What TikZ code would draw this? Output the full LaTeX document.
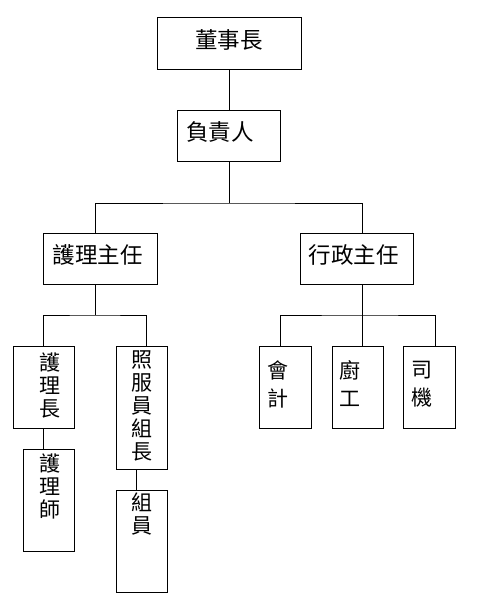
\documentclass[tikz,border=0pt]{standalone}
\usepackage{fontspec}
\newfontfamily\cjk{Noto Sans CJK TC}
\begin{document}
\begin{tikzpicture}[x=1pt,y=-1pt,
  box/.style={draw=black,line width=1pt,fill=white,inner sep=0pt},
  htxt/.style={inner sep=0pt,font=\cjk\fontsize{22.5}{24}\selectfont},
  vtxt/.style={inner sep=0pt,align=center,font=\cjk\fontsize{21}{22.8}\selectfont},
  conn/.style={line width=1pt,draw=black}]
\useasboundingbox (0,0) rectangle (477,600);
% boxes
\node[box,minimum width=144pt,minimum height=52pt] (A) at (229,43) {};
\node[box,minimum width=103pt,minimum height=51pt] (B) at (228.5,135.5) {};
\node[box,minimum width=114pt,minimum height=51pt] (C) at (100,258.5) {};
\node[box,minimum width=113pt,minimum height=51pt] (D) at (356.5,258.5) {};
\node[box,minimum width=61pt,minimum height=82pt] (E) at (43.5,387) {};
\node[box,minimum width=51pt,minimum height=102pt] (F) at (48.5,500) {};
\node[box,minimum width=51pt,minimum height=123pt] (G) at (141.5,407.5) {};
\node[box,minimum width=51pt,minimum height=102pt] (H) at (141.5,541) {};
\node[box,minimum width=52pt,minimum height=82pt] (I) at (285,387) {};
\node[box,minimum width=51pt,minimum height=82pt] (J) at (357.5,387) {};
\node[box,minimum width=52pt,minimum height=82pt] (K) at (429,387) {};
% texts
\node[htxt] (tA) at (229,40) {董事長};
\node[htxt,anchor=west] (tB) at (186,132) {負責人};
\node[htxt] (tC) at (97.5,255) {護理主任};
\node[htxt] (tD) at (353.5,255) {行政主任};
\node[vtxt] (tE) at (50,385.5) {護\\理\\長};
\node[vtxt] (tF) at (50,486.5) {護\\理\\師};
\node[vtxt] (tG) at (142,406) {照\\服\\員\\組\\長};
\node[vtxt] (tH) at (142,514) {組\\員};
\node[vtxt,font=\cjk\fontsize{21}{28}\selectfont] (tI) at (278,384) {會\\計};
\node[vtxt,font=\cjk\fontsize{21}{28}\selectfont] (tJ) at (350,384) {廚\\工};
\node[vtxt,font=\cjk\fontsize{21}{28}\selectfont] (tK) at (422,384) {司\\機};
% bus coordinates
\coordinate (b1) at (229,203);
\coordinate (b2) at (95,315);
\coordinate (b3) at (362,315);
% connectors
\draw[conn] (A.south) -- (A.south |- B.north);
\draw[conn] (A.south |- B.south) -- (b1);
\draw[conn] (C.north -| 95,0) |- (b1) -| (D.north -| 362,0);
\draw[conn] (C.south -| 95,0) -- (b2);
\draw[conn] (E.north -| 43,0) |- (b2) -| (G.north -| 146,0);
\draw[conn] (E.south -| 43,0) -- (F.north -| 43,0);
\draw[conn] (G.south -| 136,0) -- (H.north -| 136,0);
\draw[conn] (D.south -| 362,0) -- (J.north -| 362,0);
\draw[conn] (I.north -| 280,0) |- (b3) -| (K.north -| 435,0);
\end{tikzpicture}
\end{document}
